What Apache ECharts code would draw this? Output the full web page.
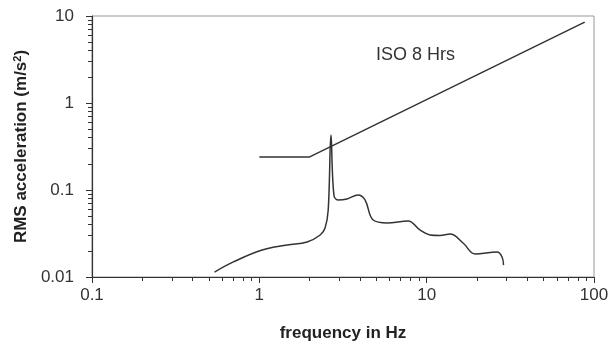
<!DOCTYPE html>
<html>
<head>
<meta charset="utf-8">
<script src="https://cdn.jsdelivr.net/npm/echarts@6/dist/echarts.min.js"></script>
<style>
  html, body { margin: 0; padding: 0; background: #fff; }
  #chart { width: 609px; height: 347px; }
</style>
</head>
<body>
<div id="chart"></div>
<script>
// ISO 8 hour limit line
const isoFreq = [1, 2, 88];
const isoAcc = [0.24, 0.24, 8.5];

// measured response
const respFreq = [0.54, 0.70, 1.04, 1.47, 1.93, 2.31, 2.47, 2.58, 2.68, 2.79, 2.95, 3.34, 3.89, 4.28, 4.79, 5.8, 7.74, 9.12, 10.47, 12.0, 13.8, 16.5, 19.5, 26.4, 28.2, 28.8];
const respAcc = [0.0114, 0.0149, 0.0204, 0.0233, 0.0253, 0.0304, 0.0366, 0.059, 0.43, 0.088, 0.077, 0.079, 0.0877, 0.077, 0.0452, 0.0418, 0.044, 0.0347, 0.0304, 0.0300, 0.0312, 0.0246, 0.0184, 0.0194, 0.017, 0.0137];

// minor tick positions (2..9 in each decade)
const xMinor = [0.2, 0.3, 0.4, 0.5, 0.6, 0.7, 0.8, 0.9, 2, 3, 4, 5, 6, 7, 8, 9, 20, 30, 40, 50, 60, 70, 80, 90];
const yMinor = [0.02, 0.03, 0.04, 0.05, 0.06, 0.07, 0.08, 0.09, 0.2, 0.3, 0.4, 0.5, 0.6, 0.7, 0.8, 0.9, 2, 3, 4, 5, 6, 7, 8, 9];

const chart = echarts.init(document.getElementById('chart'));
const axisColor = '#333';
const font = '"Liberation Sans", Arial, sans-serif';

// helper linear axis counting decades from the axis minimum, only used to place the minor ticks.
// its zero sits (just inside) on the grid edge, so the other helper axis snaps onto that edge
const minorAxis = (pos, lo, hi, vals) => ({
  type: 'value', min: -1e-6, max: Math.log10(hi / lo), position: pos,
  axisLine: { show: false, onZero: true, onZeroAxisIndex: 1 },
  axisTick: { show: true, inside: false, length: 4,
    customValues: vals.map(v => Math.log10(v / lo)),
    lineStyle: { color: axisColor } },
  axisLabel: { show: false },
  splitLine: { show: false }
});

const option = {
  animation: false,
  grid: {
    left: 92, right: 15, top: 16, bottom: 70,
    outerBoundsMode: 'none',
    show: true, borderColor: '#999', borderWidth: 1
  },
  xAxis: [{
    type: 'log', logBase: 10, min: 0.1, max: 100,
    name: 'frequency in Hz', nameLocation: 'middle', nameGap: 48,
    nameTextStyle: { fontFamily: font, fontWeight: 'bold', fontSize: 17, color: '#222' },
    axisLine: { onZero: false, lineStyle: { color: axisColor, width: 1.2 } },
    axisTick: { inside: false, length: 6, lineStyle: { color: axisColor } },
    axisLabel: { fontFamily: font, fontSize: 17, color: '#333', margin: 10,
      formatter: v => String(v) },
    splitLine: { show: false }
  }, minorAxis('bottom', 0.1, 100, xMinor)],
  yAxis: [{
    type: 'log', logBase: 10, min: 0.01, max: 10,
    name: 'RMS acceleration (m/s{sup|2})', nameLocation: 'middle', nameGap: 62,
    nameTextStyle: { fontFamily: font, fontWeight: 'bold', fontSize: 17, color: '#222',
      rich: { sup: { fontFamily: font, fontWeight: 'bold', fontSize: 11, color: '#222',
        verticalAlign: 'top', padding: [0, 0, 7, 0] } } },
    axisLine: { onZero: false, lineStyle: { color: axisColor, width: 1.2 } },
    axisTick: { inside: false, length: 6, lineStyle: { color: axisColor } },
    axisLabel: { fontFamily: font, fontSize: 17, color: '#333', margin: 18,
      formatter: v => String(v) },
    splitLine: { show: false }
  }, minorAxis('left', 0.01, 10, yMinor)],
  graphic: [{
    type: 'text', left: 376, top: 46,
    style: { text: 'ISO 8 Hrs', fontFamily: font, fontSize: 18, fill: '#333' }
  }],
  series: [
    {
      name: 'ISO 8 Hrs', type: 'line', symbol: 'none',
      data: isoFreq.map((f, i) => [f, isoAcc[i]]),
      lineStyle: { color: '#333', width: 1.5 }
    },
    {
      name: 'response', type: 'line', symbol: 'none', smooth: 0.4,
      data: respFreq.map((f, i) => [f, respAcc[i]]),
      lineStyle: { color: '#333', width: 1.5 }
    }
  ]
};

chart.setOption(option);
</script>
</body>
</html>
